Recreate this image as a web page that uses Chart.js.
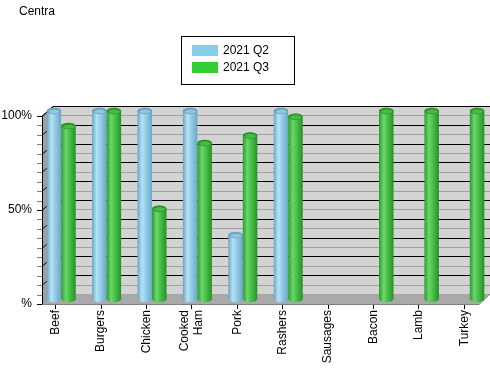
<!DOCTYPE html>
<html>
<head>
<meta charset="utf-8">
<script src="https://cdn.jsdelivr.net/npm/chart.js@4/dist/chart.umd.min.js"></script>
<style>
html,body{margin:0;padding:0;background:#fff;}
#wrap{width:490px;height:382px;}
</style>
</head>
<body>
<div id="wrap"><canvas id="c" width="490" height="382"></canvas></div>
<script>
const titleText = 'Centra';
const categories = ['Beef','Burgers','Chicken',['Cooked','Ham'],'Pork','Rashers','Sausages','Bacon','Lamb','Turkey'];
const seriesNames = ['2021 Q2','2021 Q3'];
const q2Values = [100, 100, 100, 100, 34, 100, null, null, null, null];
const q3Values = [92, 100, 48, 83, 87, 97, null, 100, 100, 100];
const yTickValues = [0, 50, 100];

const FONT = 'Liberation Sans, Arial, sans-serif';
Chart.defaults.font.family = FONT;
Chart.defaults.font.size = 12;
Chart.defaults.color = '#000';

const palettes = [
  {legend:'#87CEEB', edge:'#6aa5c4', hi:'#b6e2f4', mid:'#96cfe8', dark:'#6aa6c6', cap:'#6a9fbe', capIn:'#8fc6e0'},
  {legend:'#32CD32', edge:'#2e9c2e', hi:'#6cd66c', mid:'#4ac44a', dark:'#279027', cap:'#2a952a', capIn:'#46bd46'}
];

const DX = 5.5, DY = -5;      // bars plane offset
const WDX = 11, WDY = -10;    // back wall offset

function cylinder(ctx, cx, top, bottom, w, p) {
  const rx = w / 2, ry = 3.2;
  const l = cx - rx, r = cx + rx;
  const g = ctx.createLinearGradient(l, 0, r, 0);
  g.addColorStop(0, p.edge);
  g.addColorStop(0.32, p.hi);
  g.addColorStop(0.55, p.mid);
  g.addColorStop(1, p.dark);
  ctx.beginPath();
  ctx.moveTo(l, top);
  ctx.lineTo(l, bottom);
  ctx.ellipse(cx, bottom, rx, ry, 0, Math.PI, 0, true);
  ctx.lineTo(r, top);
  ctx.ellipse(cx, top, rx, ry, 0, 0, Math.PI, true);
  ctx.closePath();
  ctx.fillStyle = g;
  ctx.fill();
  ctx.beginPath();
  ctx.ellipse(cx, top, rx, ry, 0, 0, Math.PI * 2);
  ctx.fillStyle = p.cap;
  ctx.fill();
  ctx.beginPath();
  ctx.ellipse(cx + 0.3, top + 0.6, rx - 1.6, ry - 1.2, 0, 0, Math.PI * 2);
  ctx.fillStyle = p.capIn;
  ctx.fill();
}

const wallsPlugin = {
  id: 'walls',
  beforeDraw(chart) {
    // centre multi-line rotated category labels on their tick
    const xs = chart.scales.x;
    const items = xs.getLabelItems();
    const lh = 12 * 1.2;
    items.forEach(it => {
      if (Array.isArray(it.label) && it.label.length > 1 && !it._shifted) {
        it.options.translation[0] -= (it.label.length - 1) * lh / 2;
        it._shifted = true;
      }
    });
  },
  beforeDatasetsDraw(chart) {
    const ctx = chart.ctx, a = chart.chartArea, y = chart.scales.y;
    const FL = a.left + 9, FR = a.right - 8;
    const y0 = y.getPixelForValue(0), y100 = y.getPixelForValue(100);
    ctx.save();
    ctx.fillStyle = '#d3d3d3';
    ctx.fillRect(FL + WDX, y100 + WDY, FR - FL, y0 - y100);
    for (let v = 0; v <= 100; v += 5) {
      const py = Math.round(y.getPixelForValue(v)) + 0.5;
      ctx.strokeStyle = (v % 10 === 0) ? '#000' : '#a0a0a0';
      ctx.lineWidth = 1;
      ctx.beginPath();
      ctx.moveTo(FL + WDX, py + WDY);
      ctx.lineTo(FR + WDX, py + WDY);
      ctx.stroke();
    }
    ctx.beginPath();
    ctx.moveTo(FL, y100);
    ctx.lineTo(FL + WDX, y100 + WDY);
    ctx.lineTo(FL + WDX, y0 + WDY);
    ctx.lineTo(FL, y0);
    ctx.closePath();
    ctx.fillStyle = '#a0a0a0';
    ctx.fill();
    for (let v = 0; v <= 100; v += 10) {
      const py = Math.round(y.getPixelForValue(v)) + 0.5;
      ctx.strokeStyle = '#000';
      ctx.beginPath();
      ctx.moveTo(FL, py);
      ctx.lineTo(FL + WDX, py + WDY);
      ctx.stroke();
    }
    ctx.beginPath();
    ctx.moveTo(FL, y0);
    ctx.lineTo(FL + WDX, y0 + WDY);
    ctx.lineTo(FR + WDX, y0 + WDY);
    ctx.lineTo(FR, y0);
    ctx.closePath();
    ctx.fillStyle = '#a9a9a9';
    ctx.fill();
    ctx.strokeStyle = '#000';
    ctx.lineWidth = 1;
    ctx.beginPath();
    ctx.moveTo(FL + 0.5, y0);
    ctx.lineTo(FL + 0.5, y100);
    ctx.lineTo(FL + WDX + 0.5, y100 + WDY + 0.5);
    ctx.lineTo(FR + WDX, y100 + WDY + 0.5);
    ctx.stroke();
    ctx.strokeStyle = '#808080';
    ctx.beginPath();
    ctx.moveTo(FL, Math.round(y0) + 0.5);
    ctx.lineTo(FR, Math.round(y0) + 0.5);
    ctx.lineTo(FR + WDX, y0 + WDY);
    ctx.stroke();
    for (let v = 0; v <= 100; v += 5) {
      const py = Math.round(y.getPixelForValue(v)) + 0.5;
      ctx.strokeStyle = (v % 50 === 0) ? '#000' : '#808080';
      ctx.beginPath();
      ctx.moveTo(FL - 5, py);
      ctx.lineTo(FL, py);
      ctx.stroke();
    }
    ctx.restore();
  },
  beforeDatasetDraw() { return false; },
  afterDatasetsDraw(chart) {
    const ctx = chart.ctx;
    ctx.save();
    chart.data.datasets.forEach((ds, di) => {
      const meta = chart.getDatasetMeta(di);
      meta.data.forEach((el, i) => {
        if (ds.data[i] == null) return;
        const p = el.getProps(['x', 'y', 'base', 'width'], true);
        cylinder(ctx, p.x + DX, p.y + DY, p.base + DY, p.width, palettes[di]);
      });
    });
    ctx.restore();
  },
  afterDraw(chart) {
    const ctx = chart.ctx;
    ctx.save();
    ctx.font = '12px ' + FONT;
    ctx.fillStyle = '#000';
    ctx.textBaseline = 'middle';
    ctx.textAlign = 'left';
    ctx.fillText(titleText, 19, 12);
    ctx.strokeStyle = '#000';
    ctx.lineWidth = 1;
    ctx.strokeRect(181.5, 36.5, 113, 48);
    seriesNames.forEach((name, i) => {
      ctx.fillStyle = palettes[i].legend;
      ctx.fillRect(192, 45 + i * 17, 26, 11);
      ctx.fillStyle = '#000';
      ctx.fillText(name, 223, 50.5 + i * 17);
    });
    ctx.restore();
  }
};

new Chart(document.getElementById('c'), {
  type: 'bar',
  data: {
    labels: categories,
    datasets: [
      {label: seriesNames[0], data: q2Values, backgroundColor: palettes[0].legend},
      {label: seriesNames[1], data: q3Values, backgroundColor: palettes[1].legend}
    ]
  },
  options: {
    responsive: false,
    animation: false,
    events: [],
    categoryPercentage: 0.64,
    barPercentage: 1.0,
    layout: {padding: {top: 116, right: 3, left: 0, bottom: 0}},
    plugins: {legend: {display: false}, title: {display: false}, tooltip: {enabled: false}},
    scales: {
      x: {
        grid: {display: true, drawOnChartArea: false, offset: false, tickLength: 5, tickColor: '#000', color: '#000'},
        border: {display: false},
        ticks: {autoSkip: false, maxRotation: 90, minRotation: 90, padding: 1, color: '#000'},
        afterFit(s) { s.height = 78; }
      },
      y: {
        min: 0, max: 100,
        afterBuildTicks(s) { s.ticks = yTickValues.map(v => ({value: v})); },
        ticks: {padding: 1, color: '#000', callback: v => (v === 0 ? '%' : v + '%')},
        grid: {display: false, drawTicks: false},
        border: {display: false},
        afterFit(s) { s.width = 33; }
      }
    }
  },
  plugins: [wallsPlugin]
});
</script>
</body>
</html>
